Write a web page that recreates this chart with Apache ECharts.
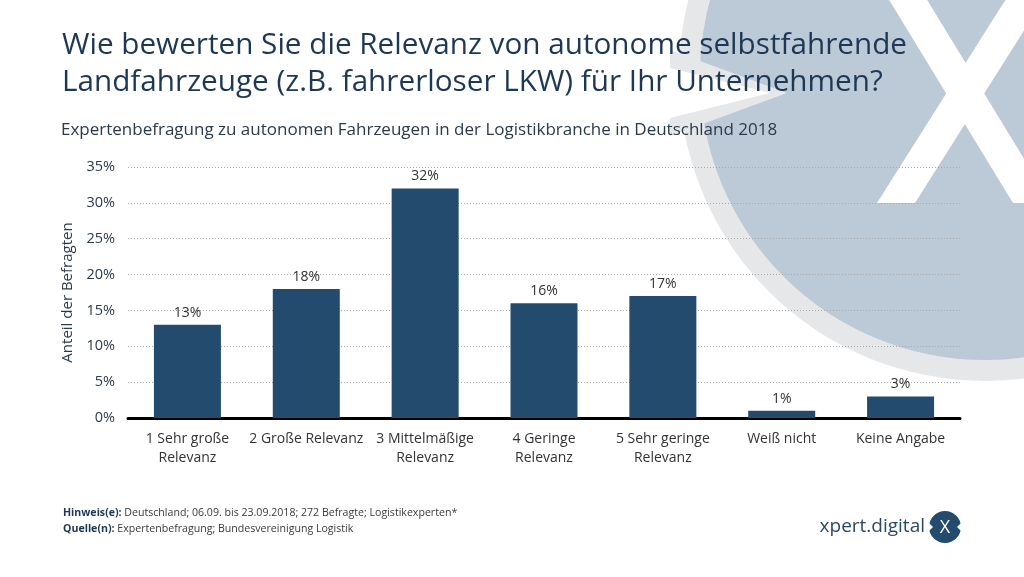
<!DOCTYPE html>
<html><head><meta charset="utf-8">
<script src="https://cdn.jsdelivr.net/npm/echarts@6/dist/echarts.min.js"></script>
<style>html,body{margin:0;padding:0;background:#fff}#c{width:1024px;height:577px}</style>
</head><body><div id="c"></div>
<script>
const categories = ['1 Sehr große\nRelevanz','2 Große Relevanz','3 Mittelmäßige\nRelevanz','4 Geringe\nRelevanz','5 Sehr geringe\nRelevanz','Weiß nicht','Keine Angabe'];
const values = [13, 18, 32, 16, 17, 1, 3];
const yTicks = [0, 5, 10, 15, 20, 25, 30, 35];
const titleText = 'Wie bewerten Sie die Relevanz von autonome selbstfahrende\nLandfahrzeuge (z.B. fahrerloser LKW) für Ihr Unternehmen?';
const subtitleText = 'Expertenbefragung zu autonomen Fahrzeugen in der Logistikbranche in Deutschland 2018';
const yAxisName = 'Anteil der Befragten';
const noteText = 'Deutschland; 06.09. bis 23.09.2018; 272 Befragte; Logistikexperten*';
const sourceText = 'Expertenbefragung; Bundesvereinigung Logistik';

const FONT = '"Open Sans", "Noto Sans", sans-serif';
const chart = echarts.init(document.getElementById('c'), null, {renderer:'canvas'});
const deco = [
  {type:'circle', z:-20, shape:{cx:985, cy:75, r:306}, style:{fill:'#e6e7e9'}, silent:true},
  {type:'circle', z:-19, shape:{cx:985, cy:75, r:285}, style:{fill:'#bccad7'}, silent:true},
  {type:'polygon', z:-18, shape:{points:[[670,50],[787,93],[670,136]]}, style:{fill:'#e6e7e9'}, silent:true},
  {type:'polygon', z:-17, shape:{points:[[670,68],[770,93],[670,118]]}, style:{fill:'#ffffff'}, silent:true},
  {type:'polygon', z:-16, shape:{points:[[877,-20],[915,-20],[1051,203],[1013,203]]}, style:{fill:'#ffffff'}, silent:true},
  {type:'polygon', z:-16, shape:{points:[[1018,-20],[1056,-20],[915,203],[877,203]]}, style:{fill:'#ffffff'}, silent:true},
  // footer logo
  {type:'text', z:10, style:{x:925, y:527, text:'xpert.digital', font:'19px ' + FONT, fill:'#2c4866', textAlign:'right', textVerticalAlign:'middle'}},
  {type:'circle', z:10, shape:{cx:945, cy:527, r:16}, style:{fill:'#234b6e'}},
  {type:'polygon', z:11, shape:{points:[[928,522],[933,527],[928,532]]}, style:{fill:'#ffffff'}},
  {type:'polygon', z:11, shape:{points:[[962,522],[957,527],[962,532]]}, style:{fill:'#ffffff'}},
  {type:'text', z:11, style:{x:945, y:528, text:'X', font:'18px ' + FONT, fill:'#ffffff', textAlign:'center', textVerticalAlign:'middle'}}
];
chart.setOption({
  animation:false,
  backgroundColor:'#ffffff',
  graphic: deco,
  title:[
    {text:titleText, left:57, top:22, textStyle:{fontFamily:FONT, fontSize:29.7, fontWeight:'normal', color:'#1d3854', lineHeight:37}},
    {text:subtitleText, left:56, top:117, textStyle:{fontFamily:FONT, fontSize:17, fontWeight:'normal', color:'#2b3a4a'}},
    {text:'{b|Hinweis(e):} ' + noteText + '\n{b|Quelle(n):} ' + sourceText, left:58, top:500,
     textStyle:{fontFamily:FONT, fontSize:10.6, fontWeight:'normal', color:'#3a3a3a', lineHeight:16, rich:{b:{fontFamily:FONT, fontSize:10.6, fontWeight:'bold', color:'#1d3854'}}}}
  ],
  grid:{left:128, right:64, top:167, bottom:159, containLabel:false},
  xAxis:{type:'category', data:categories,
    axisLine:{lineStyle:{color:'#000', width:3}}, axisTick:{show:false},
    axisLabel:{interval:0, margin:12, fontFamily:FONT, fontSize:14, color:'#333', lineHeight:19}},
  yAxis:{type:'value', min:0, max:35, interval:5,
    name:yAxisName, nameLocation:'middle', nameGap:52, nameRotate:90,
    nameTextStyle:{fontFamily:FONT, fontSize:15, color:'#2b3a4a'},
    axisLine:{show:false}, axisTick:{show:false},
    axisLabel:{margin:13, fontFamily:FONT, fontSize:14.5, color:'#2b3a4a', formatter:v => yTicks.includes(v) ? v + '%' : ''},
    splitLine:{lineStyle:{color:'#a9a9a9', type:[1,2], width:1}}},
  series:[{type:'bar', data:values, barWidth:67,
    itemStyle:{color:'#234b6e'},
    label:{show:true, position:'top', distance:5, formatter:'{c}%', fontFamily:FONT, fontSize:14, color:'#333'}}]
});
</script></body></html>
